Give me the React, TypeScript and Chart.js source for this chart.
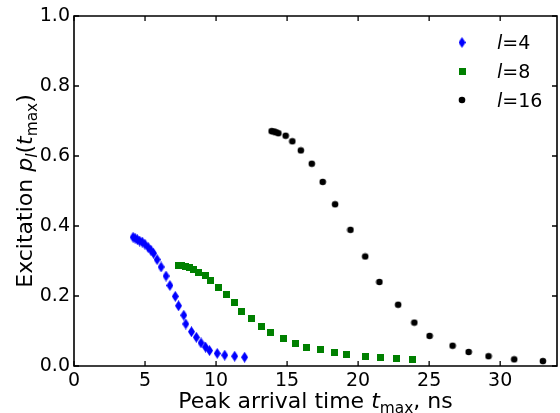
import React, { useEffect, useRef } from "react";
import { Chart, registerables } from "chart.js";

Chart.register(...registerables);

// l = 4
const t4 = [4.16, 4.30, 4.46, 4.62, 4.80, 4.99, 5.22, 5.41, 5.60, 5.85, 6.13, 6.48, 6.75, 7.13, 7.36, 7.73, 7.87, 8.27, 8.61, 8.94, 9.26, 9.54, 10.08, 10.61, 11.31, 12.01];
const p4 = [0.368, 0.365, 0.361, 0.357, 0.354, 0.348, 0.339, 0.331, 0.322, 0.304, 0.283, 0.257, 0.230, 0.199, 0.172, 0.145, 0.120, 0.098, 0.082, 0.066, 0.054, 0.044, 0.036, 0.031, 0.028, 0.025];
// l = 8
const t8 = [7.36, 7.59, 7.83, 8.11, 8.38, 8.75, 9.29, 9.61, 10.17, 10.75, 11.28, 11.77, 12.51, 13.19, 13.84, 14.74, 15.58, 16.37, 17.37, 18.31, 19.18, 20.54, 21.57, 22.73, 23.84];
const p8 = [0.287, 0.287, 0.285, 0.281, 0.275, 0.268, 0.258, 0.243, 0.225, 0.204, 0.181, 0.157, 0.135, 0.114, 0.095, 0.079, 0.065, 0.054, 0.046, 0.038, 0.033, 0.028, 0.024, 0.021, 0.019];
// l = 16
const t16 = [13.91, 14.05, 14.21, 14.39, 14.90, 15.37, 15.97, 16.74, 17.51, 18.38, 19.46, 20.50, 21.50, 22.82, 23.96, 25.03, 26.65, 27.78, 29.18, 30.99, 33.01];
const p16 = [0.671, 0.670, 0.668, 0.665, 0.658, 0.642, 0.616, 0.578, 0.526, 0.462, 0.389, 0.313, 0.240, 0.175, 0.124, 0.086, 0.058, 0.040, 0.028, 0.019, 0.014];

const legendNums = ["4", "8", "16"];
const xTicks = [0, 5, 10, 15, 20, 25, 30];
const yTicks = [0, 0.2, 0.4, 0.6, 0.8, 1.0];

const FONT = "'DejaVu Sans', sans-serif";

function makeDiamond(): HTMLCanvasElement {
  const c = document.createElement("canvas");
  c.width = 7;
  c.height = 11;
  const g = c.getContext("2d")!;
  g.fillStyle = "#0000ff";
  g.beginPath();
  g.moveTo(3.5, 0);
  g.lineTo(7, 5.5);
  g.lineTo(3.5, 11);
  g.lineTo(0, 5.5);
  g.closePath();
  g.fill();
  return c;
}
function makeSquare(): HTMLCanvasElement {
  const c = document.createElement("canvas");
  c.width = 7;
  c.height = 7;
  const g = c.getContext("2d")!;
  g.fillStyle = "#008000";
  g.fillRect(0, 0, 7, 7);
  return c;
}
function makeCircle(): HTMLCanvasElement {
  const c = document.createElement("canvas");
  c.width = 8;
  c.height = 8;
  const g = c.getContext("2d")!;
  g.fillStyle = "#000000";
  g.beginPath();
  g.arc(4, 4, 3.3, 0, Math.PI * 2);
  g.fill();
  return c;
}

type Part = { text: string; italic?: boolean; sub?: boolean };

function drawRich(ctx: CanvasRenderingContext2D, parts: Part[], cx: number, baseline: number, size: number) {
  const fontOf = (p: Part) => `${p.italic ? "italic " : ""}${p.sub ? size * 0.7 : size}px ${FONT}`;
  let total = 0;
  const widths = parts.map((p) => {
    ctx.font = fontOf(p);
    const w = ctx.measureText(p.text).width;
    total += w;
    return w;
  });
  let x = cx - total / 2;
  ctx.textAlign = "left";
  ctx.textBaseline = "alphabetic";
  parts.forEach((p, i) => {
    ctx.font = fontOf(p);
    ctx.fillText(p.text, x, baseline + (p.sub ? size * 0.22 : 0));
    x += widths[i];
  });
}

export default function App() {
  const ref = useRef<HTMLCanvasElement | null>(null);

  useEffect(() => {
    if (!ref.current) return;
    const diamond = makeDiamond();
    const square = makeSquare();
    const circle = makeCircle();
    const markers = [diamond, square, circle];

    const framePlugin = {
      id: "frame",
      afterDraw(chart: any) {
        const { ctx, chartArea } = chart;
        const { left, right, top, bottom } = chartArea;
        const xs = chart.scales.x;
        const ys = chart.scales.y;
        ctx.save();
        ctx.strokeStyle = "#000";
        ctx.lineWidth = 1.6;
        ctx.beginPath();
        ctx.rect(left, top, right - left, bottom - top);
        ctx.stroke();
        ctx.lineWidth = 1.3;
        const tl = 5;
        ctx.beginPath();
        xTicks.forEach((v) => {
          const px = xs.getPixelForValue(v);
          ctx.moveTo(px, bottom);
          ctx.lineTo(px, bottom - tl);
          ctx.moveTo(px, top);
          ctx.lineTo(px, top + tl);
        });
        yTicks.forEach((v) => {
          const py = ys.getPixelForValue(v);
          ctx.moveTo(left, py);
          ctx.lineTo(left + tl, py);
          ctx.moveTo(right, py);
          ctx.lineTo(right - tl, py);
        });
        ctx.stroke();

        // axis titles
        ctx.fillStyle = "#000";
        drawRich(
          ctx,
          [
            { text: "Peak arrival time " },
            { text: "t", italic: true },
            { text: "max", sub: true },
            { text: ", ns" },
          ],
          (left + right) / 2,
          408,
          22
        );
        ctx.save();
        ctx.translate(32, (top + bottom) / 2);
        ctx.rotate(-Math.PI / 2);
        drawRich(
          ctx,
          [
            { text: "Excitation " },
            { text: "p", italic: true },
            { text: "l", italic: true, sub: true },
            { text: "(" },
            { text: "t", italic: true },
            { text: "max", sub: true },
            { text: ")" },
          ],
          0,
          0,
          22
        );
        ctx.restore();

        // legend
        const rows = [42.5, 71.5, 100];
        legendNums.forEach((n, i) => {
          const m = markers[i];
          ctx.drawImage(m, 462 - m.width / 2, rows[i] - m.height / 2);
          ctx.textBaseline = "alphabetic";
          ctx.textAlign = "left";
          ctx.font = `italic 19px ${FONT}`;
          ctx.fillText("l", 497, rows[i] + 6.8);
          const w = ctx.measureText("l").width;
          ctx.font = `19px ${FONT}`;
          ctx.fillText("=" + n, 497 + w, rows[i] + 6.8);
        });
        ctx.restore();
      },
    };

    const mk = (xs: number[], ys: number[]) => xs.map((x, i) => ({ x, y: ys[i] }));

    const chart = new Chart(ref.current, {
      type: "scatter",
      data: {
        datasets: [
          { label: "l=4", data: mk(t4, p4), pointStyle: diamond as any, backgroundColor: "#0000ff", borderColor: "#0000ff" },
          { label: "l=8", data: mk(t8, p8), pointStyle: square as any, backgroundColor: "#008000", borderColor: "#008000" },
          { label: "l=16", data: mk(t16, p16), pointStyle: circle as any, backgroundColor: "#000", borderColor: "#000" },
        ],
      },
      options: {
        responsive: false,
        animation: false,
        devicePixelRatio: 1,
        layout: { padding: { top: 16, right: 1, left: 0, bottom: 0 } },
        plugins: { legend: { display: false }, tooltip: { enabled: false } },
        scales: {
          x: {
            type: "linear",
            min: 0,
            max: 34,
            grid: { display: false, drawTicks: false },
            border: { display: false },
            afterBuildTicks: (s: any) => {
              s.ticks = xTicks.map((v) => ({ value: v }));
            },
            afterFit: (s: any) => {
              s.height = 47;
            },
            ticks: {
              color: "#000",
              font: { family: FONT, size: 19 },
              padding: 4,
              maxRotation: 0,
              autoSkip: false,
              callback: (v: any) => String(v),
            },
          },
          y: {
            type: "linear",
            min: 0,
            max: 1,
            grid: { display: false, drawTicks: false },
            border: { display: false },
            afterBuildTicks: (s: any) => {
              s.ticks = yTicks.map((v) => ({ value: v }));
            },
            afterFit: (s: any) => {
              s.width = 74;
            },
            ticks: {
              color: "#000",
              font: { family: FONT, size: 19 },
              padding: 4,
              autoSkip: false,
              callback: (v: any) => Number(v).toFixed(1),
            },
          },
        },
      },
      plugins: [framePlugin],
    } as any);
    return () => chart.destroy();
  }, []);

  return (
    <div style={{ position: "fixed", left: 0, top: 0, width: 560, height: 413, overflow: "hidden", background: "#fff" }}>
      <canvas ref={ref} width={562} height={413} style={{ display: "block" }} />
    </div>
  );
}
